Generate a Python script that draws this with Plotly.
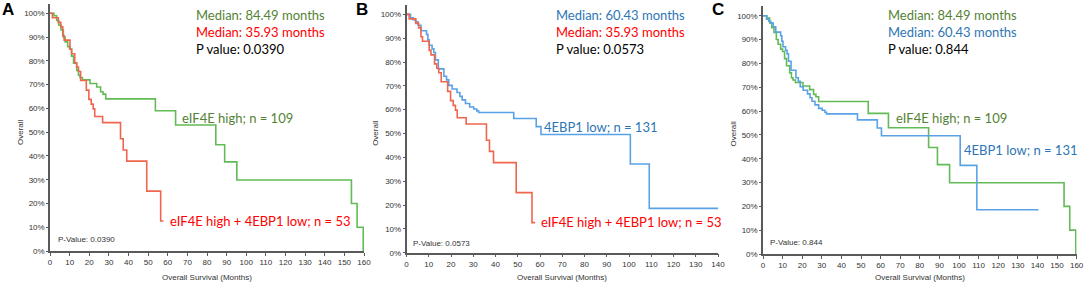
import plotly.graph_objects as go

W, H = 1084, 289

# ---------------- data (months, survival %) ----------------
green_t = [0, 2.0, 3.4, 4.5, 5.6, 6.8, 7.7, 9.0, 10.0, 11.0, 12.0, 13.6, 14.5, 15.3, 16.5,
           20.4, 23.8, 25.8, 27.0, 28.4, 53.7, 64.0, 84.49, 89.0, 95.2, 153.6, 156.5, 159.6]
green_s = [100, 99, 97, 95, 93, 90, 88, 86, 85, 82, 79, 76, 74, 73, 72,
           70.5, 69, 67, 66, 64, 59, 53, 44.7, 37.5, 29.9, 20, 10, 0]

red_t = [0, 1.2, 4.2, 5.5, 6.5, 7.2, 10.2, 11.0, 12.6, 13.6, 14.5, 15.6, 18.5, 19.8, 21.0,
         22.0, 22.8, 26.8, 35.93, 37.3, 39.1, 49.3, 56.4, 57.8]
red_s = [100, 98.1, 96.2, 94.3, 90.6, 88.7, 84.9, 83.0, 79.2, 77.4, 75.5, 71.7, 67.7, 63.8, 61.8,
         59.8, 56.6, 54.0, 47.2, 42.5, 37.8, 25.2, 12.6, 12.6]

blue_t = [0, 1.8, 3.0, 4.0, 5.2, 6.5, 9.0, 9.6, 10.2, 11.5, 12.3, 13.0, 14.3, 16.8, 18.0, 19.0,
          20.5, 22.7, 24.0, 25.0, 26.5, 28.4, 30.2, 31.6, 32.4, 48.2, 58.3, 60.43, 100.6, 109.1, 140.5]
blue_s = [100, 98.5, 97.7, 96.9, 95.4, 93.1, 91.6, 89.3, 87.0, 85.5, 84.0, 80.9, 77.1, 74.0, 72.5, 70.2,
          68.7, 67.2, 65.6, 64.1, 62.6, 61.1, 60.3, 59.5, 58.8, 56.3, 52.9, 49.6, 37.2, 18.6, 18.6]

y_ticks = [0, 10, 20, 30, 40, 50, 60, 70, 80, 90, 100]
x_ticks_160 = list(range(0, 161, 10))
x_ticks_140 = list(range(0, 141, 10))

panel_letters = ["A", "B", "C"]
medians = [
    [("Median: 84.49 months", "#548235"), ("Median: 35.93 months", "#ff0000"), ("P value: 0.0390", "#000000")],
    [("Median: 60.43 months", "#2e75b6"), ("Median: 35.93 months", "#ff0000"), ("P value: 0.0573", "#000000")],
    [("Median: 84.49 months", "#548235"), ("Median: 60.43 months", "#2e75b6"), ("P value: 0.844", "#000000")],
]
small_p = ["P-Value: 0.0390", "P-Value: 0.0573", "P-Value: 0.844"]

GREEN_LINE = "#62bb56"
RED_LINE = "#f0654e"
BLUE_LINE = "#5aa2e6"
GREEN_TXT = "#548235"
RED_TXT = "#ff0000"
BLUE_TXT = "#2e75b6"

# ---------------- layout geometry (pixels) ----------------
# (x0px, x1px, y_bottom_px, y_top_px, xmax)
panels = [
    (50, 364, 251, 3.8, 160),
    (406.5, 718, 252.7, 4.8, 140),
    (763, 1076.6, 254, 6.2, 160),
]

def px(x):
    return x / W

def py(y):
    return 1 - y / H

fig = go.Figure()

series = [
    [(green_t, green_s, GREEN_LINE), (red_t, red_s, RED_LINE)],
    [(blue_t, blue_s, BLUE_LINE), (red_t, red_s, RED_LINE)],
    [(green_t, green_s, GREEN_LINE), (blue_t, blue_s, BLUE_LINE)],
]

tick_font = dict(family="Liberation Sans, Arial", size=8, color="#333333")
AXC = "#5a5a5a"

for i, (x0, x1, yb, yt, xmax) in enumerate(panels):
    n = "" if i == 0 else str(i + 1)
    xa = "x" + n
    ya = "y" + n
    for t, s, c in series[i]:
        fig.add_trace(go.Scatter(x=t, y=s, mode="lines", line=dict(color=c, width=1.6, shape="hv"),
                                 xaxis=xa, yaxis=ya, showlegend=False, hoverinfo="skip"))
    ticks = x_ticks_160 if xmax == 160 else x_ticks_140
    fig.layout["xaxis" + n] = dict(
        domain=[px(x0), px(x1)], range=[0, xmax], anchor=ya,
        tickvals=ticks, ticktext=[str(v) for v in ticks], ticks="outside", ticklen=3,
        tickcolor=AXC, tickwidth=1, showline=True, linecolor=AXC, linewidth=1.5,
        showgrid=False, zeroline=False, tickfont=tick_font, automargin=False, fixedrange=True)
    fig.layout["yaxis" + n] = dict(
        domain=[py(yb), py(yt)], range=[0, 104], anchor=xa,
        tickvals=y_ticks, ticktext=[f"{v}%" for v in y_ticks], ticks="outside", ticklen=2,
        tickcolor=AXC, tickwidth=1, showline=True, linecolor=AXC, linewidth=1.5,
        showgrid=False, zeroline=False, tickfont=tick_font, automargin=False, fixedrange=True)

ann = []
def add_text(text, x, y, size, color, family="Lato", xanchor="left", bold=False, angle=0):
    ann.append(dict(text=(f"<b>{text}</b>" if bold else text), x=px(x), y=py(y), xref="paper", yref="paper",
                    xanchor=xanchor, yanchor="middle", showarrow=False, textangle=angle,
                    borderpad=0, borderwidth=0,
                    font=dict(family=family, size=size, color=color)))

axis_font = "Liberation Sans, Arial"
# panel letters
for letter, x in zip(panel_letters, [8, 362, 718]):
    add_text(letter, x, 9, 17, "#000000", family="Liberation Sans, Arial", xanchor="center", bold=True)

# median texts
for (x0, x1, yb, yt, xmax), lines, mx in zip(panels, medians, [196, 556, 888]):
    for j, (txt, col) in enumerate(lines):
        add_text(txt, mx, 15 + 17 * j, 13, col)

# curve labels
add_text("eIF4E high; n = 109", 182, 118, 13, GREEN_TXT)
add_text("eIF4E high + 4EBP1 low; n = 53", 170, 221, 13, RED_TXT)
add_text("4EBP1 low; n = 131", 544, 127, 13, BLUE_TXT)
add_text("eIF4E high + 4EBP1 low; n = 53", 541, 222, 13, RED_TXT)
add_text("eIF4E high; n = 109", 896, 118, 13, GREEN_TXT)
add_text("4EBP1 low; n = 131", 964, 150, 13, BLUE_TXT)

# small p-values
for txt, x, y in zip(small_p, [58, 413, 770], [239, 243, 242]):
    add_text(txt, x, y, 8, "#333333", family=axis_font)

# axis titles
for (x0, x1, yb, yt, xmax), yx in zip(panels, [20, 376, 733]):
    add_text("Overall Survival (Months)", (x0 + x1) / 2, 277, 8, "#333333", family=axis_font, xanchor="center")
    add_text("Overall", yx, (yb + 13) / 2, 8, "#333333", family=axis_font, xanchor="center", angle=-90)

fig.update_layout(width=W, height=H, margin=dict(l=0, r=0, t=0, b=0),
                  paper_bgcolor="white", plot_bgcolor="white", annotations=ann, showlegend=False)

fig.write_html("out.html",
               config={"displayModeBar": False},
               post_script="document.body.style.margin='0';document.body.style.padding='0';"
                           "document.documentElement.style.overflow='hidden';")
